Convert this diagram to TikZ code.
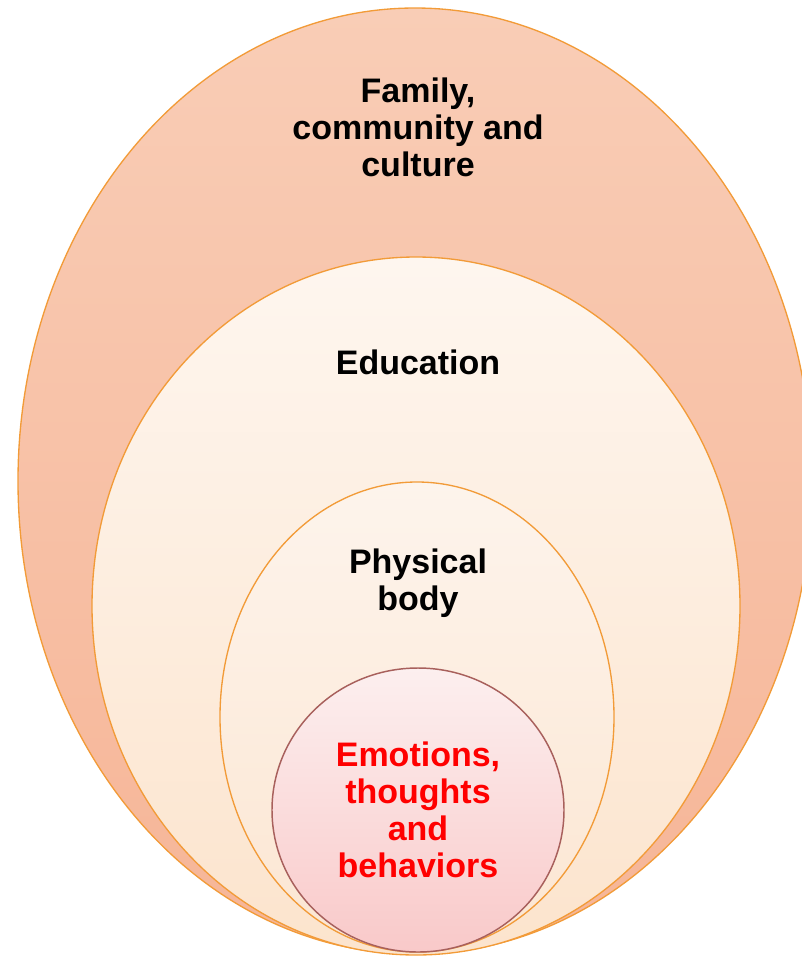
\documentclass[tikz,border=0pt]{standalone}
\usepackage{fontspec}
\setmainfont{Liberation Sans}
\definecolor{ringline}{HTML}{F29B38}
\definecolor{familytop}{HTML}{F9CDB6}
\definecolor{familybot}{HTML}{F6B597}
\definecolor{schooltop}{HTML}{FEF6EF}
\definecolor{schoolbot}{HTML}{FCE4CD}
\definecolor{bodytop}{HTML}{FDF4EC}
\definecolor{bodybot}{HTML}{FCE6D2}
\definecolor{selfline}{HTML}{A8605C}
\definecolor{selftop}{HTML}{FCEFEF}
\definecolor{selfbot}{HTML}{F9C9C9}
\definecolor{selftext}{HTML}{FF0000}

\begin{document}
\begin{tikzpicture}[
        x=0.75pt, y=-0.75pt,
        ring/.style={draw=ringline, line width=1pt},
        core/.style={draw=selfline, line width=1.1pt},
        ringtext/.style={font=\bfseries\fontsize{25.5}{27.8}\selectfont, align=center, text=black},
        coretext/.style={ringtext, text=selftext}
        ]
        
        \useasboundingbox (0,0) rectangle (802,958);
        
        %Rings
        \begin{scope}
        \clip (0,0) rectangle (802,958);
        \path[ring, top color=familytop, bottom color=familybot] (415,481) ellipse [x radius=397, y radius=473];
        \path[ring, top color=schooltop, bottom color=schoolbot] (416,606) ellipse [x radius=324, y radius=349];
        \path[ring, top color=bodytop, bottom color=bodybot] (417,717) ellipse [x radius=197, y radius=235];
        \path[core, top color=selftop, bottom color=selfbot] (418,810) ellipse [x radius=146, y radius=142];
        \end{scope}
        
        %Labels
        \node[ringtext]  (family)   at (418,127)  {Family,\\community and\\culture};
        \node[ringtext]  (school)   at (418,362)  {Education};
        \node[ringtext]  (body)     at (418,583)  {Physical\\body};
        \node[coretext]  (self)     at (418,810)  {Emotions,\\thoughts\\and\\behaviors};
        
\end{tikzpicture}
\end{document}
